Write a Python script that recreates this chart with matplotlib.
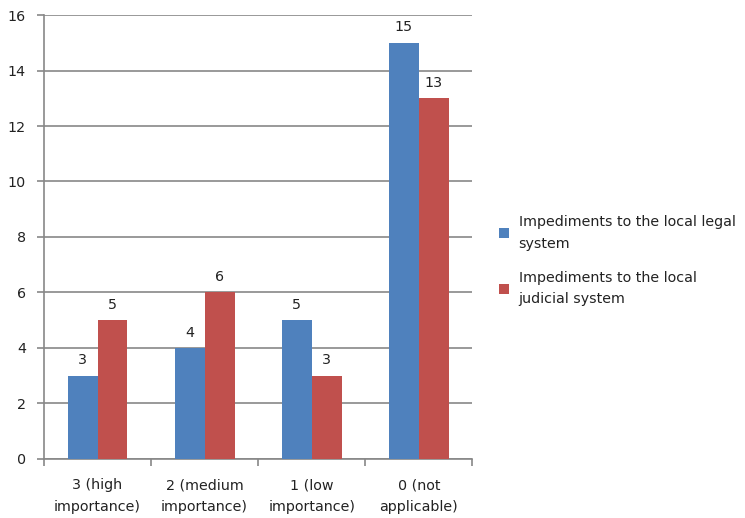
import matplotlib.pyplot as plt
import numpy as np

categories = ["3 (high\nimportance)", "2 (medium\nimportance)", "1 (low\nimportance)", "0 (not\napplicable)"]
legal = [3, 4, 5, 15]
judicial = [5, 6, 3, 13]
series_names = ["Impediments to the local legal\nsystem", "Impediments to the local\njudicial system"]

blue = "#4F81BD"
red = "#C0504D"
grid_col = "#878787"
txt_col = "#222222"
fs = 10.3

fig = plt.figure(figsize=(7.45, 5.18), dpi=100)
ax = fig.add_axes([0.059, 0.114, 0.575, 0.857])

x = np.arange(len(categories))
w = 0.28
b1 = ax.bar(x - w / 2, legal, w, color=blue, label=series_names[0], zorder=3)
b2 = ax.bar(x + w / 2, judicial, w, color=red, label=series_names[1], zorder=3)

for bars in (b1, b2):
    for r in bars:
        ax.text(r.get_x() + r.get_width() / 2, r.get_height() + 0.3, f"{int(r.get_height())}",
                ha="center", va="bottom", fontsize=fs, color=txt_col)

ax.set_xlim(-0.5, 3.5)
ax.set_ylim(0, 16)
ax.set_yticks(range(0, 17, 2))
ax.yaxis.grid(True, color=grid_col, linewidth=1.2, zorder=0)
ax.set_axisbelow(True)

ax.set_xticks([])
ax.set_xticks(np.arange(-0.5, 4, 1), minor=True)
ax.tick_params(axis="x", which="minor", length=5, color=grid_col, width=1.2)
for i, c in enumerate(categories):
    ax.text(i, -0.7, c, ha="center", va="top", fontsize=fs, color=txt_col, linespacing=1.65)

ax.tick_params(axis="y", length=5, color=grid_col, width=1.2, labelsize=fs, labelcolor=txt_col, pad=8)
for s in ["top", "right"]:
    ax.spines[s].set_visible(False)
for s in ["left", "bottom"]:
    ax.spines[s].set_color(grid_col)
    ax.spines[s].set_linewidth(1.2)

leg = fig.legend(handles=[b1, b2], labels=series_names, loc="center left", bbox_to_anchor=(0.652, 0.497),
                 frameon=False, fontsize=fs, handlelength=0.7, handleheight=0.7, handletextpad=0.7,
                 labelspacing=1.4, labelcolor=txt_col)
for t in leg.get_texts():
    t.set_linespacing(1.7)

fig.savefig("out.png", dpi=100)
